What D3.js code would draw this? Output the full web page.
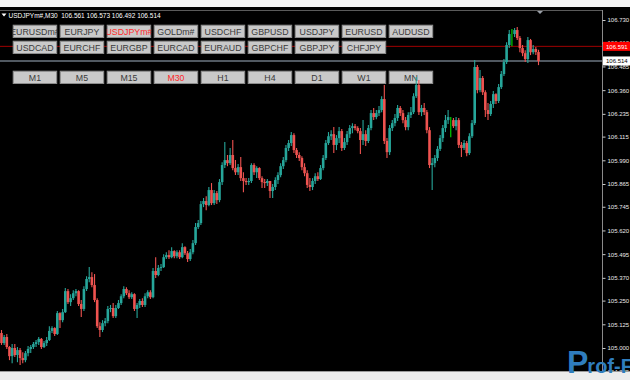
<!DOCTYPE html>
<html>
<head>
<meta charset="utf-8">
<script src="https://cdn.jsdelivr.net/npm/d3@7"></script>
<style>
  html, body { margin: 0; padding: 0; background: #000; }
  svg { display: block; font-family: "Liberation Sans", Arial, sans-serif; }
</style>
</head>
<body>
<svg id="chart" width="630" height="380"></svg>
<script>
// USDJPYm#, M30 candles
const symbolName = "USDJPYm#,M30";
const openP = [
  105.079,105.026,105.058,105.005,104.957,105.000,104.963,104.989,104.947,104.936,
  104.973,104.995,105.005,105.021,105.031,105.048,105.005,105.026,105.042,105.090,
  105.105,105.074,105.184,105.147,105.189,105.300,105.242,105.263,105.289,105.300,
  105.232,105.206,105.311,105.364,105.374,105.332,105.253,105.115,105.095,105.131,
  105.142,105.206,105.211,105.168,105.211,105.237,105.273,105.311,105.289,105.268,
  105.284,105.206,105.227,105.248,105.227,105.273,105.294,105.268,105.406,105.385,
  105.422,105.427,105.479,105.490,105.479,105.511,105.484,105.505,105.479,105.532,
  105.500,105.469,105.505,105.553,105.638,105.659,105.759,105.775,105.754,105.833,
  105.764,105.817,105.780,105.875,105.965,105.991,105.975,106.018,105.949,105.927,
  105.954,105.896,105.881,105.875,105.881,105.965,105.927,105.949,105.896,105.875,
  105.870,105.881,105.828,105.849,105.886,105.912,105.959,105.991,106.055,106.081,
  106.123,106.044,106.018,106.002,105.954,105.922,105.860,105.849,105.881,105.906,
  105.891,105.949,106.002,106.081,106.117,106.128,106.071,106.107,106.144,106.055,
  106.086,106.128,106.160,106.170,106.160,106.144,106.097,106.128,106.092,106.160,
  106.239,106.218,106.239,106.255,106.313,106.092,106.033,106.160,106.186,106.213,
  106.266,106.239,106.202,106.165,106.229,106.244,106.328,106.387,106.244,106.266,
  106.244,106.149,105.965,105.975,106.002,106.050,106.107,106.160,106.202,106.202,
  106.202,106.170,106.202,106.071,106.055,106.081,106.028,106.117,106.186,106.482,
  106.360,106.424,106.349,106.255,106.234,106.287,106.339,106.303,106.376,106.445,
  106.508,106.598,106.656,106.656,106.677,106.635,106.582,106.555,106.524,106.624,
  106.560,106.577,106.561
];
const highP = [
  105.095,105.069,105.074,105.010,105.021,105.021,105.005,105.000,104.978,104.984,
  105.010,105.016,105.031,105.042,105.058,105.053,105.037,105.058,105.115,105.115,
  105.110,105.195,105.189,105.206,105.316,105.311,105.284,105.305,105.311,105.305,
  105.253,105.326,105.379,105.427,105.400,105.390,105.263,105.136,105.147,105.158,
  105.221,105.227,105.237,105.227,105.253,105.284,105.326,105.321,105.305,105.294,
  105.289,105.237,105.258,105.263,105.289,105.305,105.305,105.422,105.479,105.438,
  105.443,105.495,105.505,105.516,105.532,105.516,105.516,105.516,105.553,105.537,
  105.511,105.522,105.569,105.659,105.675,105.775,105.791,105.801,105.849,105.870,
  105.833,105.828,105.891,105.980,106.086,106.018,106.055,106.097,105.991,105.970,
  106.007,105.927,105.896,105.896,105.975,105.975,105.959,105.954,105.906,105.891,
  105.891,105.881,105.865,105.901,105.927,105.975,106.007,106.071,106.097,106.139,
  106.133,106.055,106.033,106.012,105.975,105.938,105.896,105.896,105.922,105.927,
  105.965,106.018,106.097,106.139,106.149,106.165,106.123,106.165,106.155,106.107,
  106.144,106.176,106.186,106.181,106.170,106.160,106.202,106.149,106.176,106.255,
  106.266,106.255,106.276,106.328,106.387,106.107,106.176,106.202,106.234,106.282,
  106.276,106.255,106.218,106.244,106.271,106.344,106.429,106.413,106.282,106.292,
  106.255,106.165,106.002,106.018,106.065,106.123,106.176,106.229,106.255,106.218,
  106.213,106.218,106.213,106.086,106.097,106.092,106.133,106.202,106.519,106.493,
  106.466,106.434,106.360,106.292,106.303,106.355,106.344,106.392,106.461,106.524,
  106.613,106.677,106.683,106.688,106.693,106.645,106.598,106.571,106.640,106.630,
  106.598,106.587,106.573
];
const lowP = [
  105.016,105.016,104.995,104.936,104.920,104.952,104.925,104.910,104.920,104.925,
  104.957,104.973,104.995,105.005,105.016,104.995,105.000,105.010,105.037,105.079,
  105.063,105.069,105.105,105.136,105.184,105.232,105.221,105.253,105.273,105.221,
  105.163,105.195,105.300,105.347,105.321,105.242,105.105,105.058,105.084,105.115,
  105.131,105.189,105.158,105.158,105.206,105.227,105.263,105.279,105.258,105.258,
  105.195,105.158,105.211,105.216,105.216,105.263,105.258,105.263,105.369,105.379,
  105.406,105.422,105.469,105.469,105.474,105.474,105.474,105.469,105.474,105.490,
  105.453,105.459,105.495,105.543,105.628,105.649,105.743,105.727,105.748,105.754,
  105.754,105.759,105.769,105.860,105.949,105.959,105.965,105.938,105.912,105.912,
  105.881,105.822,105.860,105.860,105.870,105.912,105.896,105.886,105.844,105.844,
  105.854,105.791,105.791,105.833,105.865,105.901,105.944,105.980,106.039,106.065,
  106.028,106.002,105.986,105.938,105.906,105.844,105.828,105.833,105.865,105.881,
  105.886,105.938,105.991,106.071,106.097,106.028,106.044,106.081,106.039,106.044,
  106.071,106.107,106.133,106.149,106.133,106.023,106.071,106.065,106.081,106.149,
  106.202,106.207,106.223,106.244,106.076,106.002,106.018,106.144,106.170,106.197,
  106.223,106.186,106.149,106.149,106.213,106.234,106.318,106.229,106.223,106.229,
  106.133,105.949,105.833,105.954,105.986,106.039,106.086,106.139,106.181,106.112,
  106.160,106.149,106.055,106.007,106.044,106.012,106.018,106.107,106.176,106.344,
  106.349,106.334,106.218,106.202,106.223,106.266,106.287,106.292,106.366,106.434,
  106.498,106.582,106.592,106.640,106.624,106.560,106.539,106.508,106.503,106.545,
  106.550,106.545,106.492
];
const closeP = [
  105.026,105.058,105.005,104.957,105.000,104.963,104.989,104.947,104.936,104.973,
  104.995,105.005,105.021,105.031,105.048,105.005,105.026,105.042,105.090,105.105,
  105.074,105.184,105.147,105.189,105.300,105.242,105.263,105.289,105.300,105.232,
  105.206,105.311,105.364,105.374,105.332,105.253,105.115,105.095,105.131,105.142,
  105.206,105.211,105.168,105.211,105.237,105.273,105.311,105.289,105.268,105.284,
  105.206,105.227,105.248,105.227,105.273,105.294,105.268,105.406,105.385,105.422,
  105.427,105.479,105.490,105.479,105.511,105.484,105.505,105.479,105.532,105.500,
  105.469,105.505,105.553,105.638,105.659,105.759,105.775,105.754,105.833,105.764,
  105.817,105.780,105.875,105.965,105.991,105.975,106.018,105.949,105.927,105.954,
  105.896,105.881,105.875,105.881,105.965,105.927,105.949,105.896,105.875,105.870,
  105.881,105.828,105.849,105.886,105.912,105.959,105.991,106.055,106.081,106.123,
  106.044,106.018,106.002,105.954,105.922,105.860,105.849,105.881,105.906,105.891,
  105.949,106.002,106.081,106.117,106.128,106.071,106.107,106.144,106.055,106.086,
  106.128,106.160,106.170,106.160,106.144,106.097,106.128,106.092,106.160,106.239,
  106.218,106.239,106.255,106.313,106.092,106.033,106.160,106.186,106.213,106.266,
  106.239,106.202,106.165,106.229,106.244,106.328,106.387,106.244,106.266,106.244,
  106.149,105.965,105.975,106.002,106.050,106.107,106.160,106.202,106.218,106.202,
  106.170,106.202,106.071,106.055,106.081,106.028,106.117,106.186,106.482,106.360,
  106.424,106.349,106.255,106.234,106.287,106.339,106.303,106.376,106.445,106.508,
  106.598,106.656,106.656,106.677,106.635,106.582,106.555,106.524,106.624,106.560,
  106.577,106.561,106.514
];

const priceTicks = [106.730, 106.610, 106.485, 106.360, 106.235, 106.115, 105.990, 105.865,
                    105.745, 105.620, 105.495, 105.370, 105.250, 105.125, 105.000, 104.875];

const symbolsRow1 = ["EURUSDm#", "EURJPY", "USDJPYm#", "GOLDm#", "USDCHF", "GBPUSD", "USDJPY", "EURUSD", "AUDUSD"];
const symbolsRow2 = ["USDCAD", "EURCHF", "EURGBP", "EURCAD", "EURAUD", "GBPCHF", "GBPJPY", "CHFJPY"];
const periods = ["M1", "M5", "M15", "M30", "H1", "H4", "D1", "W1", "MN"];
const activeSymbol = "USDJPYm#";
const activePeriod = "M30";

const alertPrice = 106.591;
const bidPrice = 106.514;

const W = 630, H = 380;
const plotRight = 602, plotTop = 10, plotBottom = 371;

const svg = d3.select("#chart");

const y = d3.scaleLinear().domain([105.0, 106.73]).range([348, 20]);
const x = d3.scaleLinear().domain([0, closeP.length - 1]).range([1.5, 538.5]);

// background
svg.append("rect").attr("width", W).attr("height", H).attr("fill", "#000");
svg.append("rect").attr("width", W).attr("height", 7).attr("fill", "#f4f4f4");

// plot frame
svg.append("line").attr("x1", 0).attr("x2", plotRight).attr("y1", plotTop + 0.5).attr("y2", plotTop + 0.5)
  .attr("stroke", "#5a5a5a");

// price axis
const axis = svg.append("g")
  .attr("transform", `translate(${plotRight + 0.5},0)`)
  .call(d3.axisRight(y).tickValues(priceTicks).tickFormat(d3.format(".3f")).tickSize(3).tickPadding(2));
axis.select(".domain").attr("stroke", "#8a8a8a").attr("d", `M0,${plotTop}V${plotBottom}`);
axis.selectAll(".tick line").attr("stroke", "#c8c8c8");
axis.selectAll(".tick text").attr("fill", "#e8e8e8").attr("font-size", 6)
  .attr("font-family", "'Liberation Sans', Arial, sans-serif");

// alert line (red) and bid line (gray)
svg.append("line").attr("x1", 0).attr("x2", plotRight).attr("y1", y(alertPrice)).attr("y2", y(alertPrice))
  .attr("stroke", "#a00000").attr("stroke-width", 1);
svg.append("line").attr("x1", 0).attr("x2", plotRight).attr("y1", y(bidPrice)).attr("y2", y(bidPrice))
  .attr("stroke", "#505860").attr("stroke-width", 2);

// price boxes on the axis
function priceBox(p, bg, fg) {
  const g = svg.append("g");
  g.append("rect").attr("x", plotRight + 1).attr("y", y(p) - 4.5).attr("width", W - plotRight - 1).attr("height", 9)
    .attr("fill", bg);
  g.append("text").attr("x", plotRight + 4).attr("y", y(p) + 2.2).attr("font-size", 6).attr("fill", fg)
    .text(d3.format(".3f")(p));
}
priceBox(alertPrice, "#ff0000", "#ffffff");
priceBox(bidPrice, "#ffffff", "#000000");

// buttons
const btnW = 44.5, btnH = 13.3;
const btnX = i => 12.7 + 47 * i;
const defs = svg.append("defs");

function buttonRow(names, top, active, key) {
  const g = svg.append("g");
  names.forEach((name, i) => {
    const id = `clip-${key}-${i}`;
    defs.append("clipPath").attr("id", id)
      .append("rect").attr("x", btnX(i)).attr("y", top).attr("width", btnW).attr("height", btnH);
    g.append("rect").attr("x", btnX(i) + 0.5).attr("y", top + 0.5).attr("width", btnW - 1).attr("height", btnH - 1)
      .attr("fill", "#c9c9c9").attr("stroke", "#8c8c8c").attr("stroke-width", 1);
    g.append("text").attr("x", btnX(i) + btnW / 2).attr("y", top + 10)
      .attr("clip-path", `url(#${id})`)
      .attr("text-anchor", "middle").attr("font-size", 8.8)
      .attr("fill", name === active ? "#ff2a2a" : "#3a3a3a")
      .text(name);
  });
}
buttonRow(symbolsRow1, 24.7, activeSymbol, "s1");
buttonRow(symbolsRow2, 40.7, activeSymbol, "s2");
buttonRow(periods, 70.7, activePeriod, "p");

// candles
const candles = closeP.map((c, i) => ({ i, o: openP[i], h: highP[i], l: lowP[i], c }));
const candleColor = d => d.c > d.o ? "#26a69a" : (d.c < d.o ? "#ef5350" : "#00e000");

const cg = svg.append("g");
cg.selectAll("line.wick").data(candles).enter().append("line")
  .attr("class", "wick")
  .attr("x1", d => x(d.i)).attr("x2", d => x(d.i))
  .attr("y1", d => y(d.h)).attr("y2", d => y(d.l))
  .attr("stroke", candleColor).attr("stroke-width", 1.1);
cg.selectAll("rect.body").data(candles.filter(d => d.o !== d.c)).enter().append("rect")
  .attr("class", "body")
  .attr("x", d => x(d.i) - 1.3)
  .attr("width", 2.6)
  .attr("y", d => y(Math.max(d.o, d.c)))
  .attr("height", d => Math.max(1, Math.abs(y(d.o) - y(d.c))))
  .attr("fill", candleColor);

// chart shift marker
svg.append("path").attr("d", `M537,${plotTop + 1}L543,${plotTop + 1}L540,${plotTop + 4}Z`).attr("fill", "#9aa0a8");

// header
svg.append("path").attr("d", "M1.5,13.5L6.5,13.5L4,16.5Z").attr("fill", "#ffffff");
svg.append("text").attr("x", 8.5).attr("y", 17.5).attr("font-size", 6.5).attr("fill", "#ffffff")
  .attr("xml:space", "preserve")
  .text(`${symbolName}  ${openP[openP.length - 1].toFixed(3)} ${highP[highP.length - 1].toFixed(3)} ${lowP[lowP.length - 1].toFixed(3)} ${closeP[closeP.length - 1].toFixed(3)}`);

// bottom strip
svg.append("rect").attr("x", 0).attr("y", plotBottom).attr("width", W).attr("height", H - plotBottom).attr("fill", "#ececec");
svg.append("line").attr("x1", 0).attr("x2", W).attr("y1", plotBottom + 0.5).attr("y2", plotBottom + 0.5).attr("stroke", "#9a9a9a");

// watermark
const wm = svg.append("text").attr("x", 567).attr("y", 373).attr("fill", "#2f7dbd").attr("font-weight", "bold");
wm.append("tspan").attr("font-size", 32).text("P");
wm.append("tspan").attr("font-size", 20).attr("dx", -1).text("rof-FX");
</script>
</body>
</html>
